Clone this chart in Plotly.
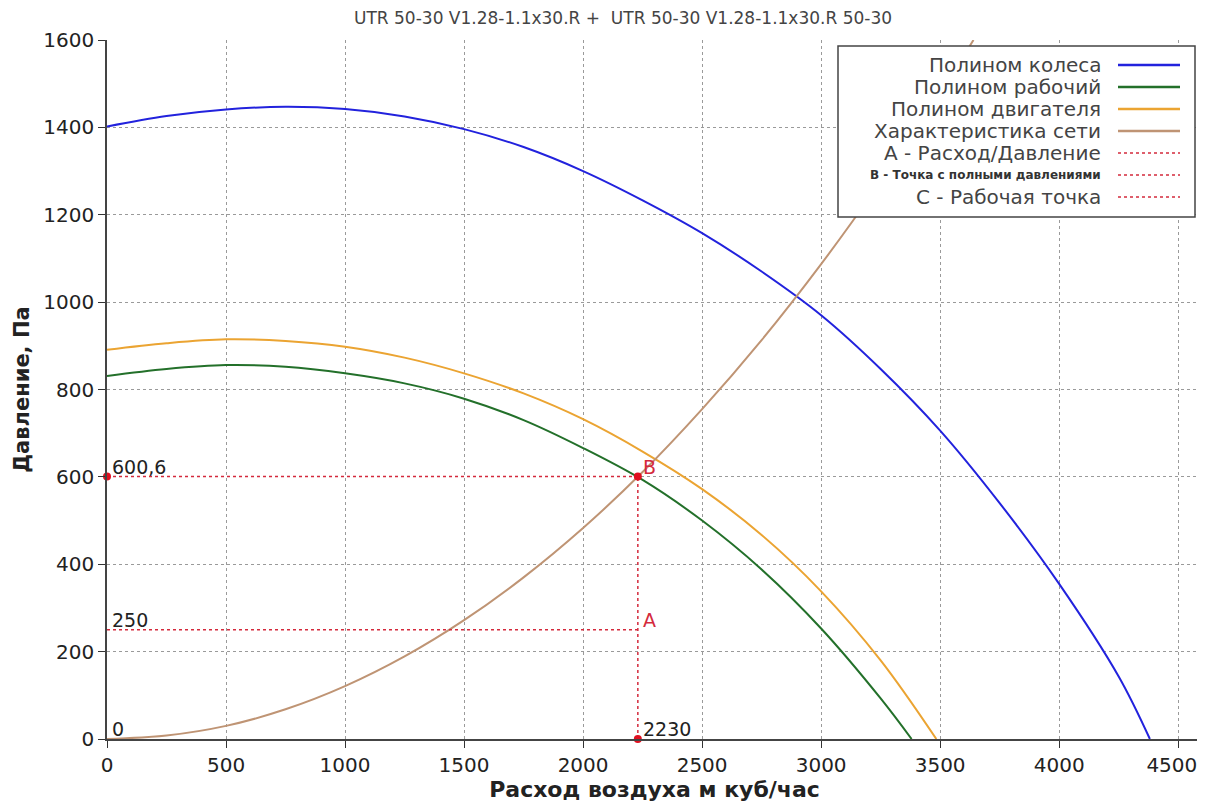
import plotly.graph_objects as go

# ---------------- data ----------------
q_wheel = [0, 250, 500, 750, 1000, 1250, 1500, 1750, 2000, 2250, 2500, 2750, 3000, 3250, 3500, 3750, 4000, 4250, 4381]
p_wheel = [1402, 1426, 1441, 1447, 1442, 1425, 1396, 1355, 1300, 1233, 1158, 1070, 970, 847, 706, 540, 355, 143, 0]

q_work = [0, 250, 500, 750, 1000, 1250, 1500, 1750, 2000, 2250, 2500, 2750, 3000, 3250, 3380]
p_work = [831, 847, 856, 852, 837, 814, 779, 730, 666, 593, 500, 388, 253, 93, 0]

q_motor = [0, 250, 500, 750, 1000, 1250, 1500, 1750, 2000, 2250, 2500, 2750, 3000, 3250, 3484]
p_motor = [891, 906, 915, 911, 898, 873, 837, 791, 732, 658, 572, 467, 338, 180, 0]

q_net = [0, 250, 500, 750, 1000, 1250, 1500, 1750, 2000, 2250, 2500, 2750, 3000, 3250, 3500, 3640]
p_net = [0, 8, 30, 68, 121, 189, 272, 370, 483, 611, 755, 913, 1087, 1276, 1479, 1600]

point_q = 2230
point_p = 600.6
flow_p = 250

legend_names = ["Полином колеса", "Полином рабочий", "Полином двигателя", "Характеристика сети",
                "A - Расход/Давление", "B - Точка с полными давлениями", "C - Рабочая точка"]

x_ticks = [0, 500, 1000, 1500, 2000, 2500, 3000, 3500, 4000, 4500]
y_ticks = [0, 200, 400, 600, 800, 1000, 1200, 1400, 1600]

title_text = "UTR 50-30 V1.28-1.1х30.R +  UTR 50-30 V1.28-1.1х30.R 50-30"
x_title = "Расход воздуха м куб/час"
y_title = "Давление, Па"

# ---------------- styles ----------------
C_BLUE = "#2222dd"
C_GREEN = "#23702a"
C_ORANGE = "#eba432"
C_BROWN = "#bf9474"
C_RED = "#d42a3c"
C_MARK = "#e01020"
FONT = "DejaVu Sans"

OFF = 8  # page body margin
W, H = 1197, 795
ML, MR, MT, MB = 99, 3, 32, 64
PW, PH = W - ML - MR, H - MT - MB


def px(xp):
    return (xp - OFF - ML) / PW


def py(yp):
    return (H - MB - (yp - OFF)) / PH


# last x tick label nudged left so it stays inside the window
x_ticktext = [str(v) for v in x_ticks]
x_ticktext[-1] = x_ticktext[-1] + "\u00a0\u00a0"

fig = go.Figure()

for q, p, c in [(q_wheel, p_wheel, C_BLUE), (q_work, p_work, C_GREEN),
                (q_motor, p_motor, C_ORANGE), (q_net, p_net, C_BROWN)]:
    fig.add_trace(go.Scatter(x=q, y=p, mode="lines", line=dict(color=c, width=2, shape="spline"),
                             showlegend=False, hoverinfo="skip"))

# red dotted guide lines
for xs, ys in [([0, point_q], [point_p, point_p]), ([0, point_q], [flow_p, flow_p]),
               ([point_q, point_q], [0, point_p])]:
    fig.add_trace(go.Scatter(x=xs, y=ys, mode="lines",
                             line=dict(color=C_RED, width=1.5, dash="dot"), showlegend=False))
fig.add_trace(go.Scatter(x=[0, point_q, point_q], y=[point_p, point_p, 0], mode="markers",
                         marker=dict(color=C_MARK, size=8), showlegend=False, cliponaxis=False))

annos = []
lab_font = dict(family=FONT, size=19, color="#222")
red_font = dict(family=FONT, size=19, color=C_RED)
for x, y, t, f in [(0, point_p, f"{point_p:g}".replace(".", ","), lab_font),
                   (0, flow_p, f"{flow_p}", lab_font),
                   (0, 0, "0", lab_font),
                   (point_q, 0, f"{point_q}", lab_font),
                   (point_q, flow_p, "A", red_font),
                   (point_q, point_p, "B", red_font)]:
    annos.append(dict(x=x, y=y, xref="x", yref="y", text=t, showarrow=False, xanchor="left",
                      yanchor="bottom", xshift=3, yshift=-3, font=f))

# custom legend (text right-aligned, sample lines on the right)
shapes = [dict(type="rect", xref="paper", yref="paper", x0=px(838), x1=px(1195), y0=py(217), y1=py(46),
               fillcolor="white", line=dict(color="#444", width=1.5), layer="above")]
colors = [C_BLUE, C_GREEN, C_ORANGE, C_BROWN, C_RED, C_RED, C_RED]
for i, (name, c) in enumerate(zip(legend_names, colors)):
    yy = 65 + i * 22
    dotted = i >= 4
    shapes.append(dict(type="line", xref="paper", yref="paper", x0=px(1118), x1=px(1180),
                       y0=py(yy), y1=py(yy), layer="above",
                       line=dict(color=c, width=1.5 if dotted else 2.5, dash="dot" if dotted else "solid")))
    if i == 5:
        f = dict(family=FONT, size=12, color="#333", weight="bold")
    else:
        f = dict(family=FONT, size=20, color="#444")
    annos.append(dict(x=px(1103), y=py(yy), xref="paper", yref="paper", text=name, showarrow=False,
                      xanchor="right", yanchor="middle", font=f))

# title
annos.append(dict(x=px(623), y=py(18), xref="paper", yref="paper", text=title_text, showarrow=False,
                  xanchor="center", yanchor="middle", font=dict(family=FONT, size=17, color="#444")))

axis_common = dict(ticks="outside", ticklen=7, tickcolor="#333", showline=True, linecolor="#444",
                   linewidth=1.5, showgrid=True, gridcolor="#9a9a9a", griddash="dot", gridwidth=1,
                   zeroline=False, ticklabeloverflow="allow", automargin=False,
                   tickfont=dict(family=FONT, size=20, color="#222"))

fig.update_layout(
    width=W, height=H,
    margin=dict(l=ML, r=MR, t=MT, b=MB),
    paper_bgcolor="white", plot_bgcolor="white",
    xaxis=dict(range=[0, 4600], tickvals=x_ticks, ticktext=x_ticktext, **axis_common,
               title=dict(text=x_title, font=dict(family=FONT, size=22, color="#222",
                                                   weight="bold"), standoff=5)),
    yaxis=dict(range=[0, 1600], tickvals=y_ticks, **axis_common,
               title=dict(text=y_title, font=dict(family=FONT, size=21, color="#222",
                                                   weight="bold"), standoff=8)),
    shapes=shapes,
    annotations=annos,
)

fig.write_html("out.html")
